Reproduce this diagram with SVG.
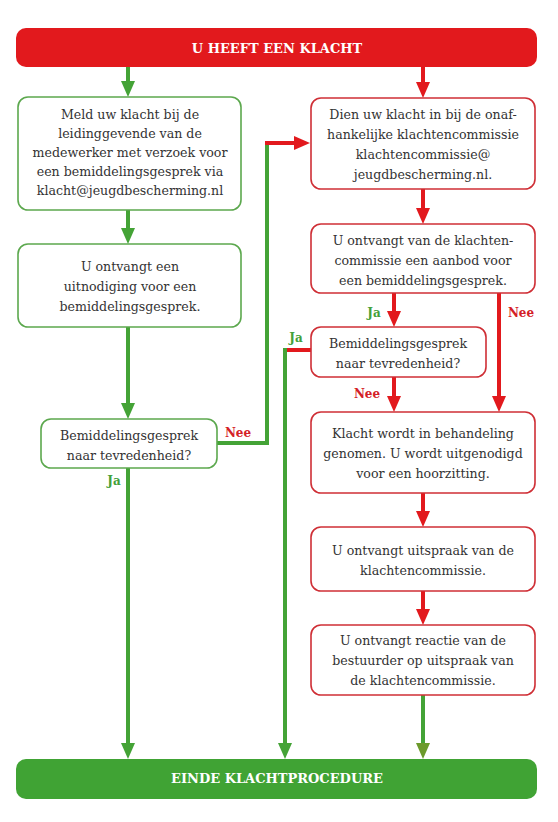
<svg xmlns="http://www.w3.org/2000/svg" width="558" height="822" viewBox="0 0 558 822">
<style>
.bg{fill:#ffffff}
.g{fill:#fff;stroke:#5ca84e;stroke-width:1.6}
.r{fill:#fff;stroke:#cf2f36;stroke-width:1.6}
.t{font-family:"DejaVu Serif","Liberation Serif",serif;font-size:12.6px;fill:#333;text-anchor:middle}
.h{font-family:"DejaVu Serif","Liberation Serif",serif;font-size:13px;font-weight:bold;fill:#fff;text-anchor:middle}
.lg{font-family:"DejaVu Serif","Liberation Serif",serif;font-size:12px;font-weight:bold;fill:#45a03a;text-anchor:middle}
.lr{font-family:"DejaVu Serif","Liberation Serif",serif;font-size:12px;font-weight:bold;fill:#d42027;text-anchor:middle}
.cg{fill:none;stroke:#44a336;stroke-width:4}
.cr{fill:none;stroke:#e2191d;stroke-width:4}
</style>
<defs>
<marker id="ag" viewBox="0 0 16 14" refX="0" refY="7" markerWidth="16" markerHeight="14" markerUnits="userSpaceOnUse" orient="auto"><path d="M0,0 L16,7 L0,14 z" fill="#44a336"/></marker>
<marker id="ao" viewBox="0 0 16 14" refX="0" refY="7" markerWidth="16" markerHeight="14" markerUnits="userSpaceOnUse" orient="auto"><path d="M0,0 L16,7 L0,14 z" fill="#6c9a2c"/></marker>
<marker id="ar" viewBox="0 0 16 14" refX="0" refY="7" markerWidth="16" markerHeight="14" markerUnits="userSpaceOnUse" orient="auto"><path d="M0,0 L16,7 L0,14 z" fill="#e2191d"/></marker>
</defs>
<rect class="bg" x="0" y="0" width="558" height="822"/>

<g id="connectors">
<path class="cg" d="M128,67 V81" marker-end="url(#ag)"/>
<path class="cr" d="M423,67 V82" marker-end="url(#ar)"/>
<path class="cg" d="M128,210 V228" marker-end="url(#ag)"/>
<path class="cg" d="M128,327 V403" marker-end="url(#ag)"/>
<path class="cg" d="M128,468 V743" marker-end="url(#ag)"/>
<path class="cg" d="M217,443 H267 V143"/>
<path class="cr" d="M265,143 H294" marker-end="url(#ar)"/>
<path class="cr" d="M423,189 V208" marker-end="url(#ar)"/>
<path class="cr" d="M394,293 V311" marker-end="url(#ar)"/>
<path class="cr" d="M499,293 V396" marker-end="url(#ar)"/>
<path class="cr" d="M311,350 H283"/>
<path class="cg" d="M285,348 V743" marker-end="url(#ag)"/>
<path class="cr" d="M394,377 V396" marker-end="url(#ar)"/>
<path class="cr" d="M423,493 V511" marker-end="url(#ar)"/>
<path class="cr" d="M423,591 V609" marker-end="url(#ar)"/>
<path class="cg" d="M423,695 V743" marker-end="url(#ao)"/>
<text class="lg" x="374" y="317">Ja</text>
<text class="lr" x="521" y="317">Nee</text>
<text class="lg" x="296" y="342">Ja</text>
<text class="lr" x="367" y="398">Nee</text>
<text class="lr" x="238" y="437">Nee</text>
<text class="lg" x="114" y="485">Ja</text>
</g>

<g id="start">
<rect x="16" y="28" width="521" height="39" rx="10" fill="#e2191d"/>
<text class="h" x="277" y="53">U HEEFT EEN KLACHT</text>
</g>

<g id="meld">
<rect class="g" x="18" y="97" width="223" height="113" rx="10"/>
<text class="t" x="130" y="119">Meld uw klacht bij de</text>
<text class="t" x="130" y="138">leidinggevende van de</text>
<text class="t" x="130" y="157">medewerker met verzoek voor</text>
<text class="t" x="130" y="176">een bemiddelingsgesprek via</text>
<text class="t" x="130" y="195">klacht@jeugdbescherming.nl</text>
</g>

<g id="uitnodiging">
<rect class="g" x="18" y="244" width="223" height="83" rx="10"/>
<text class="t" x="130" y="271">U ontvangt een</text>
<text class="t" x="130" y="291">uitnodiging voor een</text>
<text class="t" x="130" y="311">bemiddelingsgesprek.</text>
</g>

<g id="tevreden1">
<rect class="g" x="41" y="419" width="176" height="49" rx="10"/>
<text class="t" x="129" y="440">Bemiddelingsgesprek</text>
<text class="t" x="129" y="460">naar tevredenheid?</text>
</g>

<g id="dien">
<rect class="r" x="311" y="98" width="224" height="91" rx="10"/>
<text class="t" x="423" y="119">Dien uw klacht in bij de onaf-</text>
<text class="t" x="423" y="139">hankelijke klachtencommissie</text>
<text class="t" x="423" y="159">klachtencommissie@</text>
<text class="t" x="423" y="179">jeugdbescherming.nl.</text>
</g>

<g id="aanbod">
<rect class="r" x="311" y="224" width="224" height="69" rx="10"/>
<text class="t" x="423" y="245">U ontvangt van de klachten-</text>
<text class="t" x="423" y="265">commissie een aanbod voor</text>
<text class="t" x="423" y="285">een bemiddelingsgesprek.</text>
</g>

<g id="tevreden2">
<rect class="r" x="311" y="327" width="175" height="50" rx="10"/>
<text class="t" x="398" y="348">Bemiddelingsgesprek</text>
<text class="t" x="398" y="368">naar tevredenheid?</text>
</g>

<g id="behandeling">
<rect class="r" x="311" y="412" width="224" height="81" rx="10"/>
<text class="t" x="423" y="438">Klacht wordt in behandeling</text>
<text class="t" x="423" y="458">genomen. U wordt uitgenodigd</text>
<text class="t" x="423" y="478">voor een hoorzitting.</text>
</g>

<g id="uitspraak">
<rect class="r" x="311" y="527" width="224" height="64" rx="10"/>
<text class="t" x="423" y="555">U ontvangt uitspraak van de</text>
<text class="t" x="423" y="575">klachtencommissie.</text>
</g>

<g id="reactie">
<rect class="r" x="311" y="625" width="224" height="70" rx="10"/>
<text class="t" x="423" y="645">U ontvangt reactie van de</text>
<text class="t" x="423" y="665">bestuurder op uitspraak van</text>
<text class="t" x="423" y="685">de klachtencommissie.</text>
</g>

<g id="einde">
<rect x="16" y="759" width="521" height="40" rx="10" fill="#40a334"/>
<text class="h" x="277" y="783">EINDE KLACHTPROCEDURE</text>
</g>
</svg>
